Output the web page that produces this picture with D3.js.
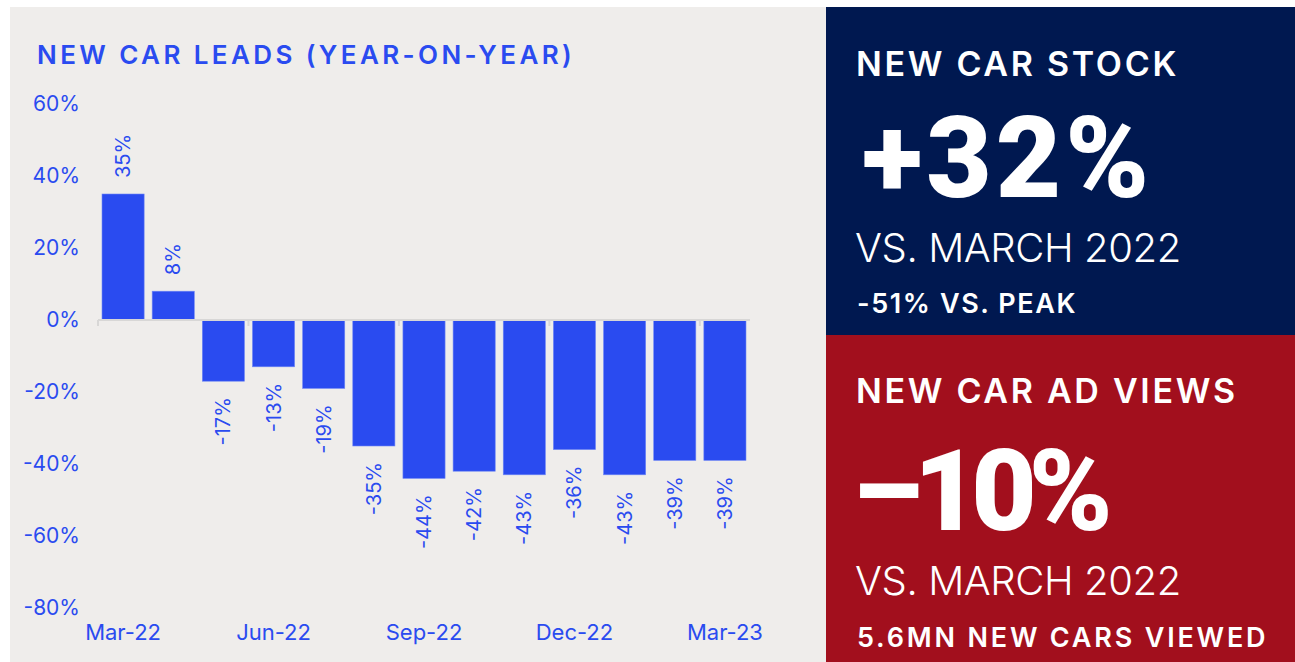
<!DOCTYPE html>
<html>
<head>
<meta charset="utf-8">
<script src="https://cdn.jsdelivr.net/npm/d3@7"></script>
<style>
  body { margin: 0; background: #fff; }
  svg { display: block; font-family: Inter, "Noto Sans", sans-serif; }
</style>
</head>
<body>
<div id="chart"></div>
<script>
// chart data
let months = ["Mar-22", "Apr-22", "May-22", "Jun-22", "Jul-22", "Aug-22", "Sep-22",
              "Oct-22", "Nov-22", "Dec-22", "Jan-23", "Feb-23", "Mar-23"];
let leads = [35, 8, -17, -13, -19, -35, -44, -42, -43, -36, -43, -39, -39];
let yTicks = [60, 40, 20, 0, -20, -40, -60, -80];
let xLabels = ["Mar-22", "Jun-22", "Sep-22", "Dec-22", "Mar-23"];

// side panels
let stockLines = ["NEW CAR STOCK", "+32%", "VS. MARCH 2022", "-51% VS. PEAK"];
let viewsLines = ["NEW CAR AD VIEWS", "\u201310%", "VS. MARCH 2022", "5.6MN NEW CARS VIEWED"];

let blue = "#2a4bf0";

let svg = d3.select("#chart")
    .append("svg")
    .attr("width", 1295)
    .attr("height", 662);

// backgrounds
svg.append("rect").attr("x", 10).attr("y", 7).attr("width", 816).attr("height", 655).attr("fill", "#efedeb");
svg.append("rect").attr("x", 826).attr("y", 7).attr("width", 469).attr("height", 328).attr("fill", "#001850");
svg.append("rect").attr("x", 826).attr("y", 335).attr("width", 469).attr("height", 327).attr("fill", "#a20f1d");

// title
svg.append("text")
    .attr("x", 37).attr("y", 64)
    .text("NEW CAR LEADS (YEAR-ON-YEAR)")
    .style("fill", blue)
    .style("font-size", 26)
    .style("font-weight", 600)
    .style("letter-spacing", "3.4px");

//scales
let x = d3.scaleBand()
    .domain(months)
    .range([98, 750])
    .paddingInner(0.16)
    .paddingOuter(0.08);

let y = d3.scaleLinear()
    .domain([-80, 60])
    .range([608, 104]);

//y axis labels (no line)
svg.append("g")
    .selectAll("text")
    .data(yTicks)
    .enter()
    .append("text")
    .attr("x", 80)
    .attr("y", d => y(d))
    .attr("dy", "0.35em")
    .attr("text-anchor", "end")
    .text(d => d + "%")
    .style("fill", blue)
    .style("font-size", 21);

//bars
svg.append("g")
    .selectAll("rect")
    .data(leads)
    .enter()
    .append("rect")
    .attr("x", (d, i) => x(months[i]))
    .attr("y", d => y(Math.max(0, d)))
    .attr("width", x.bandwidth())
    .attr("height", d => Math.abs(y(d) - y(0)))
    .attr("fill", blue)
    .attr("stroke", "#6f87f5")
    .attr("stroke-width", 0.6);

//zero line with ticks every 3 months
let half = x.step() * x.paddingInner() / 2;
let axis = svg.append("g").attr("transform", "translate(0," + y(0) + ")");
axis.append("line")
    .attr("x1", 98).attr("x2", 750)
    .attr("stroke", "#d8d7d6").attr("stroke-width", 2);
axis.selectAll(".tick")
    .data(months.filter((m, i) => i % 3 == 0))
    .enter()
    .append("line")
    .attr("x1", d => x(d) - half)
    .attr("x2", d => x(d) - half)
    .attr("y1", 0).attr("y2", 6)
    .attr("stroke", "#d8d7d6").attr("stroke-width", 2);

//x labels
svg.append("g")
    .selectAll("text")
    .data(xLabels)
    .enter()
    .append("text")
    .attr("x", d => x(d) + x.bandwidth() / 2)
    .attr("y", 640)
    .attr("text-anchor", "middle")
    .text(d => d)
    .style("fill", blue)
    .style("font-size", 22);

//value labels, rotated
svg.append("g")
    .selectAll("text")
    .data(leads)
    .enter()
    .append("text")
    .attr("transform", (d, i) => {
        let cx = x(months[i]) + x.bandwidth() / 2;
        let cy = d >= 0 ? y(d) - 16 : y(d) + 16;
        return "translate(" + cx + "," + cy + ") rotate(-90)";
    })
    .attr("dy", "0.35em")
    .attr("text-anchor", d => d >= 0 ? "start" : "end")
    .text(d => d + "%")
    .style("fill", blue)
    .style("font-size", 20);

//side panel text, baselines and big-number spacing given per panel
function panel(lines, base, bigX, bigSpacing, lastSpacing) {
    let g = svg.append("g").style("fill", "#fff");
    g.append("text").attr("x", 856).attr("y", base[0]).text(lines[0])
        .style("font-size", 34).style("font-weight", 600).style("letter-spacing", "2.7px");
    g.append("text").attr("x", bigX).attr("y", base[1]).text(lines[1])
        .style("font-family", "Roboto, sans-serif")
        .style("font-size", 113).style("font-weight", 900).style("letter-spacing", bigSpacing + "px");
    g.append("text").attr("x", 855).attr("y", base[2]).text(lines[2])
        .style("font-size", 40).style("font-weight", 300).style("letter-spacing", "-0.4px");
    g.append("text").attr("x", 857).attr("y", base[3]).text(lines[3])
        .style("font-size", 27).style("font-weight", 600).style("letter-spacing", lastSpacing + "px");
}
panel(stockLines, [76, 197, 262, 313], 862, 4, 1.6);
panel(viewsLines, [403, 530, 595, 647], 852, -8, 2.8);
</script>
</body>
</html>
